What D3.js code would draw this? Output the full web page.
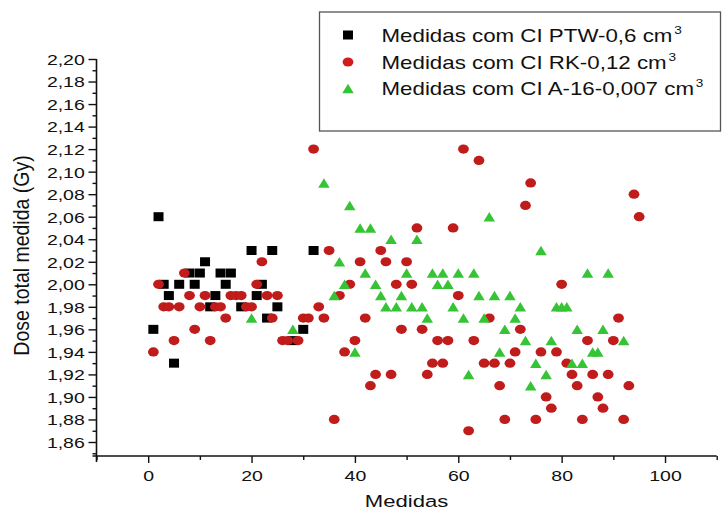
<!DOCTYPE html>
<html>
<head>
<meta charset="utf-8">
<script src="https://cdn.jsdelivr.net/npm/d3@7"></script>
<style>
  html, body { margin: 0; padding: 0; background: #fff; }
  svg { display: block; font-family: "Liberation Sans", Arial, sans-serif; }
</style>
</head>
<body>
<svg id="chart" width="725" height="514"></svg>
<script>
// Dose measured per measurement index, three ionisation chambers
const ptwX = [1, 2, 3, 4, 5, 6, 8, 9, 10, 11, 12, 13, 14, 15, 16, 18, 20, 21, 22, 23, 24, 25, 28, 30, 32];
const ptwY = [1.96, 2.06, 2.00, 1.99, 1.93, 2.00, 2.01, 2.00, 2.01, 2.02, 1.98, 1.99, 2.01, 2.00, 2.01, 1.98, 2.03, 1.99, 2.00, 1.97, 2.03, 1.98, 1.95, 1.96, 2.03];

const rkX = [1, 2, 3, 4, 5, 6, 7, 8, 9, 10, 11, 12, 13, 14, 15, 16, 17, 18, 19, 20,
             21, 22, 23, 24, 25, 26, 27, 29, 30, 31, 32, 33, 34, 35, 36, 37, 38, 39, 40,
             41, 42, 43, 44, 45, 46, 47, 48, 49, 50, 51, 52, 53, 54, 55, 56, 57, 58, 59, 60,
             61, 62, 63, 64, 65, 66, 67, 68, 69, 70, 71, 72, 73, 74, 75, 76, 77, 78, 79, 80,
             81, 82, 83, 84, 85, 86, 87, 88, 89, 90, 91, 92, 93, 94, 95];
const rkY = [1.94, 2.00, 1.98, 1.98, 1.95, 1.98, 2.01, 1.99, 1.96, 1.98, 1.99, 1.95, 1.98, 1.98, 1.97, 1.99, 1.99, 1.99, 1.98, 1.98,
             2.00, 2.02, 1.99, 1.97, 1.99, 1.95, 1.95, 1.95, 1.97, 1.97, 2.12, 1.98, 1.97, 2.03, 1.88, 1.99, 1.94, 2.00, 1.95,
             2.02, 1.97, 1.91, 1.92, 2.03, 2.02, 1.92, 2.00, 1.96, 2.02, 2.00, 2.05, 1.96, 1.92, 1.93, 1.95, 1.93, 1.95, 2.05, 1.99,
             2.12, 1.87, 1.95, 2.11, 1.93, 1.97, 1.93, 1.91, 1.88, 1.93, 1.94, 1.96, 2.07, 2.09, 1.88, 1.94, 1.90, 1.89, 1.94, 2.00,
             1.93, 1.92, 1.91, 1.88, 1.95, 1.92, 1.90, 1.89, 1.92, 1.95, 1.97, 1.88, 1.91, 2.08, 2.06];

const a16X = [20, 28, 34, 36, 37, 38, 39, 40, 41, 42, 43, 44, 45, 46, 47, 48, 49, 50, 51, 52, 53, 54, 55, 56, 57, 58, 59, 60,
              61, 62, 63, 64, 65, 66, 67, 68, 69, 70, 71, 72, 73, 74, 75, 76, 77, 78, 79, 80, 81, 82, 83, 84, 85, 86, 87, 88, 89, 92];
const a16Y = [1.97, 1.96, 2.09, 1.99, 2.02, 2.00, 2.07, 1.94, 2.05, 2.01, 2.05, 2.00, 1.99, 1.98, 2.04, 1.98, 1.99, 2.01, 1.98, 2.04, 1.98, 1.97, 2.01, 2.00, 2.01, 2.00, 1.98, 2.01,
              1.97, 1.92, 2.01, 1.99, 1.97, 2.06, 1.99, 1.94, 1.96, 1.99, 1.97, 1.98, 1.95, 1.91, 1.93, 2.03, 1.92, 1.95, 1.98, 1.98, 1.98, 1.93, 1.96, 1.93, 2.01, 1.94, 1.94, 1.96, 2.01, 1.95];

const xTickValues = [0, 20, 40, 60, 80, 100];
const xMinorValues = [-10, 10, 30, 50, 70, 90, 110];
const yTickValues = d3.range(0, 18).map(i => +(1.86 + i * 0.02).toFixed(2));
const yMinorValues = d3.range(0, 18).map(i => +(1.85 + i * 0.02).toFixed(2));

const seriesNames = ["Medidas com CI PTW-0,6 cm", "Medidas com CI RK-0,12 cm", "Medidas com CI A-16-0,007 cm"];
const xTitle = "Medidas";
const yTitle = "Dose total medida (Gy)";

const colors = { ptw: "#000000", rk: "#c01a1a", a16: "#35c435" };
const stretch = 1.3;   // glyphs are drawn wider than tall throughout

const svg = d3.select("#chart");

const x = d3.scaleLinear().domain([-10, 110]).range([96.5, 716.7]);
const y = d3.scaleLinear().domain([1.86, 2.20]).range([442, 59]);
const plotBottom = 456;

const ptBR = d3.formatLocale({ decimal: ",", thousands: ".", grouping: [3], currency: ["", ""] });
const fmtY = ptBR.format(".2f");

// soft edge on the markers
const defs = svg.append("defs");
defs.append("filter").attr("id", "soft")
  .attr("x", "-50%").attr("y", "-50%").attr("width", "200%").attr("height", "200%")
  .append("feGaussianBlur").attr("stdDeviation", 0.6);

// ---- axes ----
const axisColor = "#111";

// y axis
const yAxisG = svg.append("g").attr("transform", `translate(${x(-10)},0)`);
yAxisG.call(d3.axisLeft(y).tickValues(yTickValues).tickSize(8).tickFormat(fmtY))
  .call(g => g.select(".domain").remove());
yAxisG.selectAll(".tick line").attr("stroke", axisColor).attr("stroke-width", 1.4);
yAxisG.selectAll(".tick text")
  .attr("x", -9).attr("dy", "0.36em")
  .attr("transform", `scale(${stretch},1)`)
  .attr("font-size", 15).attr("fill", "#111")
  .attr("font-family", "Liberation Sans, Arial, sans-serif");
const yMinorG = svg.append("g").attr("transform", `translate(${x(-10)},0)`);
yMinorG.call(d3.axisLeft(y).tickValues(yMinorValues).tickSize(4).tickFormat(""))
  .call(g => g.select(".domain").remove());
yMinorG.selectAll(".tick line").attr("stroke", axisColor).attr("stroke-width", 1.4);
svg.append("line")
  .attr("x1", x(-10)).attr("x2", x(-10))
  .attr("y1", y(2.20)).attr("y2", plotBottom + 6)
  .attr("stroke", axisColor).attr("stroke-width", 1.6);

// x axis
const xAxisG = svg.append("g").attr("transform", `translate(0,${plotBottom})`);
xAxisG.call(d3.axisBottom(x).tickValues(xTickValues).tickSize(7).tickFormat(d3.format("d")))
  .call(g => g.select(".domain").remove());
xAxisG.selectAll(".tick line").attr("stroke", axisColor).attr("stroke-width", 1.4);
xAxisG.selectAll(".tick text")
  .attr("y", 14).attr("dy", "0.71em")
  .attr("transform", `scale(${stretch},1)`)
  .attr("font-size", 15).attr("fill", "#111")
  .attr("font-family", "Liberation Sans, Arial, sans-serif");
const xMinorG = svg.append("g").attr("transform", `translate(0,${plotBottom})`);
xMinorG.call(d3.axisBottom(x).tickValues(xMinorValues).tickSize(4).tickFormat(""))
  .call(g => g.select(".domain").remove());
xMinorG.selectAll(".tick line").attr("stroke", axisColor).attr("stroke-width", 1.4);
svg.append("line")
  .attr("x1", x(-10) - 4).attr("x2", x(110))
  .attr("y1", plotBottom).attr("y2", plotBottom)
  .attr("stroke", axisColor).attr("stroke-width", 1.6);

// axis titles
svg.append("text")
  .attr("transform", `translate(${(x(-10) + x(110)) / 2},507) scale(${stretch},1)`)
  .attr("text-anchor", "middle").attr("font-size", 17).attr("fill", "#111")
  .text(xTitle);
svg.append("text")
  .attr("transform", `translate(29,${(y(2.20) + plotBottom) / 2 - 2}) scale(1.12,1) rotate(-90)`)
  .attr("text-anchor", "middle").attr("font-size", 19.5).attr("fill", "#111")
  .text(yTitle);

// ---- marker shapes ----
const sqW = 10, sqH = 9;
const elRx = 5.4, elRy = 4.6;
const triW = 11.5, triH = 9.5;
const triPath = `M0,${-triH / 2}L${triW / 2},${triH / 2}L${-triW / 2},${triH / 2}Z`;

function drawSquares(g, xs, ys, color) {
  g.selectAll(null).data(xs.map((v, i) => [v, ys[i]])).join("rect")
    .attr("x", d => x(d[0]) - sqW / 2).attr("y", d => y(d[1]) - sqH / 2)
    .attr("width", sqW).attr("height", sqH).attr("fill", color);
}
function drawEllipses(g, xs, ys, color) {
  g.selectAll(null).data(xs.map((v, i) => [v, ys[i]])).join("ellipse")
    .attr("cx", d => x(d[0])).attr("cy", d => y(d[1]))
    .attr("rx", elRx).attr("ry", elRy).attr("fill", color);
}
function drawTriangles(g, xs, ys, color) {
  g.selectAll(null).data(xs.map((v, i) => [v, ys[i]])).join("path")
    .attr("transform", d => `translate(${x(d[0])},${y(d[1])})`)
    .attr("d", triPath).attr("fill", color);
}

const marks = svg.append("g").attr("filter", "url(#soft)");
drawSquares(marks.append("g"), ptwX, ptwY, colors.ptw);
drawEllipses(marks.append("g"), rkX, rkY, colors.rk);
drawTriangles(marks.append("g"), a16X, a16Y, colors.a16);

// ---- legend ----
const legend = svg.append("g");
legend.append("rect")
  .attr("x", 319.5).attr("y", 12).attr("width", 401).attr("height", 119)
  .attr("fill", "#fff").attr("stroke", "#555").attr("stroke-width", 1.3);

const legendRows = [35, 62, 88.5];
const legendSym = legend.append("g").attr("filter", "url(#soft)");
legendSym.append("rect").attr("x", 348 - sqW / 2).attr("y", legendRows[0] - sqH / 2)
  .attr("width", sqW).attr("height", sqH).attr("fill", colors.ptw);
legendSym.append("ellipse").attr("cx", 348).attr("cy", legendRows[1])
  .attr("rx", elRx).attr("ry", elRy).attr("fill", "#d11e1e");
legendSym.append("path").attr("transform", `translate(348,${legendRows[2]})`)
  .attr("d", triPath).attr("fill", colors.a16);

seriesNames.forEach((name, i) => {
  const t = legend.append("text")
    .attr("transform", `translate(381.5,${legendRows[i] + 6.5}) scale(1.24,1)`)
    .attr("font-size", 18).attr("fill", "#111");
  t.append("tspan").text(name);
  t.append("tspan").attr("dx", 1.5).attr("dy", -8).attr("font-size", 11).text("3");
});
</script>
</body>
</html>
